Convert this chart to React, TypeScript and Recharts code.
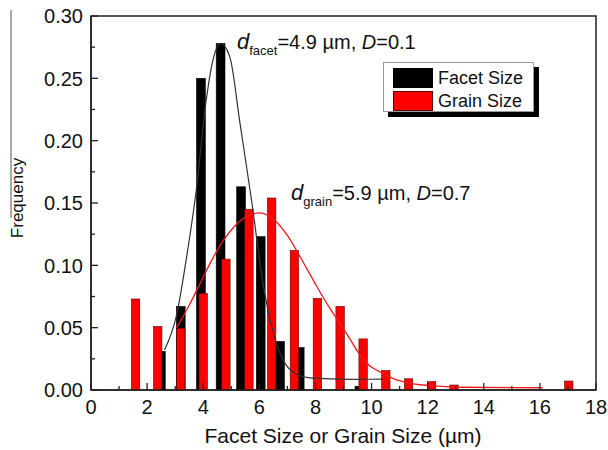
import { ComposedChart, Bar, Line, XAxis, YAxis, ReferenceArea } from 'recharts'

// histogram bins (bin centre in µm)
const facetX = [2.49, 3.2, 3.92, 4.62, 5.35, 6.05, 6.74, 7.44, 9.57]
const facetFreq = [0.031, 0.067, 0.25, 0.278, 0.163, 0.123, 0.039, 0.034, 0.003]

const grainX = [1.59, 2.38, 3.2, 4.0, 4.81, 5.63, 6.44, 7.25, 8.07, 8.88, 9.7, 10.51, 11.32, 12.14, 12.94, 17.03]
const grainFreq = [0.073, 0.051, 0.0495, 0.0775, 0.105, 0.145, 0.154, 0.112, 0.0735, 0.067, 0.041, 0.0155, 0.009, 0.0067, 0.004, 0.0072]

// fitted distribution curves
const facetFitX = [2.62, 3.05, 3.41, 3.75, 4.08, 4.35, 4.62, 4.95, 5.31, 5.75, 6.1, 6.44, 6.85, 7.3, 7.9, 9.2, 10.4]
const facetFit = [0.032, 0.06, 0.107, 0.16, 0.228, 0.265, 0.278, 0.267, 0.214, 0.148, 0.09, 0.051, 0.024, 0.013, 0.0095, 0.0086, 0.0087]

const grainFitX = [3.05, 3.5, 3.9, 4.3, 4.72, 5.1, 5.45, 6.0, 6.6, 7.0, 7.35, 7.7, 8.05, 8.5, 8.85, 9.2, 9.5, 9.85, 10.4, 10.8, 11.25, 12.1, 13.3, 16.1]
const grainFit = [0.05, 0.068, 0.086, 0.104, 0.12, 0.131, 0.138, 0.142, 0.135, 0.124, 0.111, 0.097, 0.083, 0.066, 0.054, 0.042, 0.031, 0.021, 0.0135, 0.009, 0.006, 0.0035, 0.0022, 0.0018]

const xTicks = [0, 1, 2, 3, 4, 5, 6, 7, 8, 9, 10, 11, 12, 13, 14, 15, 16, 17, 18]
const yTicks = [0, 0.025, 0.05, 0.075, 0.1, 0.125, 0.15, 0.175, 0.2, 0.225, 0.25, 0.275, 0.3]

const FONT = '"Liberation Sans", Arial, sans-serif'
const AXIS = '#222'

const rows = [
  ...facetX.map((x, i) => ({ x, facet: facetFreq[i] })),
  ...grainX.map((x, i) => ({ x, grain: grainFreq[i] })),
  ...facetFitX.map((x, i) => ({ x, facetFit: facetFit[i] })),
  ...grainFitX.map((x, i) => ({ x, grainFit: grainFit[i] })),
].sort((a, b) => a.x - b.x)

const barShape = (w: number, fill: string, stroke: string) => (p: any) => {
  if (!(p.height > 0) || !Number.isFinite(p.y)) return <g />
  const cx = p.x + p.width / 2
  return <rect x={cx - w / 2} y={p.y} width={w} height={p.height} fill={fill} stroke={stroke} strokeWidth={0.6} />
}

function YTick(props: any) {
  const { x, y, payload } = props
  const v = payload.value
  const major = Math.round(v * 1000) % 50 === 0
  const ax = x + 8
  return (
    <g>
      <line x1={ax} x2={ax + (major ? 7 : 4)} y1={y} y2={y} stroke={AXIS} strokeWidth={1.3} />
      {major && (
        <text x={x} y={y} dy="0.36em" textAnchor="end" fontSize={20} fontFamily={FONT} fill="#111">
          {v.toFixed(2)}
        </text>
      )}
    </g>
  )
}

function XTick(props: any) {
  const { x, y, payload } = props
  const v = payload.value
  const major = v % 2 === 0
  const ay = y - 10
  return (
    <g>
      <line x1={x} x2={x} y1={ay} y2={ay - (major ? 7 : 4)} stroke={AXIS} strokeWidth={1.3} />
      {major && (
        <text x={x} y={y} dy="0.72em" textAnchor="middle" fontSize={20} fontFamily={FONT} fill="#111">
          {v}
        </text>
      )}
    </g>
  )
}

export default function App() {
  return (
    <div style={{ position: 'absolute', left: 0, top: 0, width: 608, height: 450, background: '#fff' }}>
      <ComposedChart width={608} height={450} data={rows} margin={{ top: 16, right: 12, bottom: 0, left: 0 }}>
        <XAxis
          xAxisId="f"
          dataKey="x"
          type="number"
          domain={[0, 18]}
          ticks={xTicks}
          interval={0}
          tick={<XTick />}
          tickSize={0}
          tickMargin={10}
          height={60}
          axisLine={{ stroke: AXIS, strokeWidth: 1.5 }}
        />
        <XAxis xAxisId="g" dataKey="x" type="number" domain={[0, 18]} hide />
        <YAxis
          type="number"
          domain={[0, 0.3]}
          ticks={yTicks}
          interval={0}
          tick={<YTick />}
          tickSize={0}
          tickMargin={8}
          width={91}
          axisLine={{ stroke: AXIS, strokeWidth: 1.5 }}
        />
        <Bar xAxisId="f" dataKey="facet" barSize={9} shape={barShape(8.8, '#000', '#000')} isAnimationActive={false} />
        <Bar xAxisId="g" dataKey="grain" barSize={9} shape={barShape(8.4, '#ff0000', '#5a0000')} isAnimationActive={false} />
        <Line
          xAxisId="f"
          dataKey="grainFit"
          type="monotone"
          stroke="#ee1c1c"
          strokeWidth={1.3}
          dot={false}
          connectNulls
          isAnimationActive={false}
        />
        <Line
          xAxisId="f"
          dataKey="facetFit"
          type="monotone"
          stroke="#333"
          strokeWidth={1.2}
          dot={false}
          connectNulls
          isAnimationActive={false}
        />
        <ReferenceArea xAxisId="f" x1={0} x2={18} y1={0} y2={0.3} fill="none" stroke={AXIS} strokeWidth={1.5} ifOverflow="visible" />
      </ComposedChart>

      <svg width={608} height={450} style={{ position: 'absolute', left: 0, top: 0, pointerEvents: 'none' }}>
        <line x1={11} x2={11} y1={10} y2={218} stroke="#555" strokeWidth={1} />
        <text transform="translate(23,198) rotate(-90)" textAnchor="middle" fontSize={17} fontFamily={FONT} fill="#111">
          Frequency
        </text>
        <text x={343} y={443} textAnchor="middle" fontSize={21} fontFamily={FONT} fill="#111">
          Facet Size or Grain Size (µm)
        </text>
        <text x={237} y={49} fontSize={20} fontFamily={FONT} fill="#111">
          <tspan fontStyle="italic" fontSize={22}>d</tspan>
          <tspan fontSize={13} dy={6}>facet</tspan>
          <tspan dy={-6}>=4.9 µm, </tspan>
          <tspan fontStyle="italic">D</tspan>
          <tspan>=0.1</tspan>
        </text>
        <text x={291} y={200} fontSize={20} fontFamily={FONT} fill="#111">
          <tspan fontStyle="italic" fontSize={22}>d</tspan>
          <tspan fontSize={13} dy={6}>grain</tspan>
          <tspan dy={-6}>=5.9 µm, </tspan>
          <tspan fontStyle="italic">D</tspan>
          <tspan>=0.7</tspan>
        </text>
      </svg>

      <div
        style={{
          position: 'absolute',
          left: 383,
          top: 62,
          width: 149,
          height: 48,
          border: '1px solid #999',
          background: '#fff',
          boxShadow: '5px 5px 0 #000',
          fontFamily: FONT,
          fontSize: 18,
          color: '#111',
        }}
      >
        {[
          { label: 'Facet Size', fill: '#000', border: '#000' },
          { label: 'Grain Size', fill: '#ff0000', border: '#5a0000' },
        ].map((item, i) => (
          <div key={item.label} style={{ position: 'absolute', left: 9, top: 5 + i * 23, display: 'flex', alignItems: 'center' }}>
            <div style={{ width: 38, height: 18, background: item.fill, border: `1px solid ${item.border}` }} />
            <span style={{ marginLeft: 5, lineHeight: '20px' }}>{item.label}</span>
          </div>
        ))}
      </div>
    </div>
  )
}
